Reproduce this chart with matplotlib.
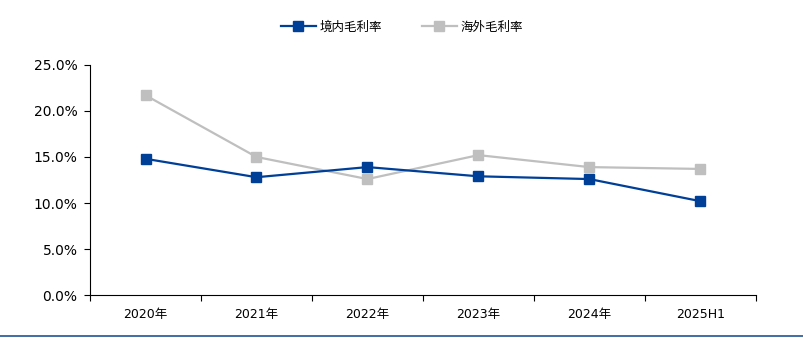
import matplotlib.pyplot as plt
from matplotlib.lines import Line2D
from matplotlib.ticker import FixedLocator, PercentFormatter

plt.rcParams['font.family'] = ['DejaVu Sans', 'Noto Sans CJK SC']

categories = ["2020年", "2021年", "2022年", "2023年", "2024年", "2025H1"]
domestic = [14.8, 12.8, 13.9, 12.9, 12.6, 10.2]
overseas = [21.7, 15.0, 12.6, 15.2, 13.9, 13.7]
series_names = ["境内毛利率", "海外毛利率"]

BLUE = "#003F98"
GRAY = "#BFBFBF"

fig = plt.figure(figsize=(8.04, 3.38), dpi=100)
ax = fig.add_axes([0.112, 0.127, 0.828, 0.681])

x = list(range(len(categories)))
ax.plot(x, overseas, color=GRAY, lw=1.6, marker="s", ms=7, label=series_names[1], zorder=2)
ax.plot(x, domestic, color=BLUE, lw=1.6, marker="s", ms=7, label=series_names[0], zorder=3)

ax.set_xlim(-0.5, len(categories) - 0.5)
ax.set_ylim(0, 25)
ax.set_yticks([0, 5, 10, 15, 20, 25])
ax.yaxis.set_major_formatter(PercentFormatter(decimals=1))

ax.xaxis.set_major_locator(FixedLocator([i - 0.5 for i in range(len(categories) + 1)]))
ax.xaxis.set_minor_locator(FixedLocator(x))
ax.set_xticklabels([""] * (len(categories) + 1))
ax.set_xticklabels(categories, minor=True, family=['DejaVu Sans', 'Noto Sans CJK SC'], fontsize=9)
ax.tick_params(axis="x", which="major", direction="out", length=4, width=0.8)
ax.tick_params(axis="x", which="minor", length=0, pad=9)
ax.tick_params(axis="y", direction="out", length=4, width=0.8, labelsize=10, pad=5)

for s in ["top", "right"]:
    ax.spines[s].set_visible(False)
for s in ["left", "bottom"]:
    ax.spines[s].set_color("black")
    ax.spines[s].set_linewidth(0.8)

handles = [
    Line2D([], [], color=BLUE, lw=1.6, marker="s", ms=7),
    Line2D([], [], color=GRAY, lw=1.6, marker="s", ms=7),
]
fig.legend(handles, series_names, loc="center", bbox_to_anchor=(0.5, 0.92), ncol=2,
           frameon=False, prop={"family": ["Noto Sans CJK SC"], "size": 9},
           handlelength=2.8, columnspacing=3.2, handletextpad=0.3)

fig.add_artist(Line2D([0, 1], [0.006, 0.006], transform=fig.transFigure, color="#1F5597", lw=1.2))

fig.savefig("out.png", dpi=100)
